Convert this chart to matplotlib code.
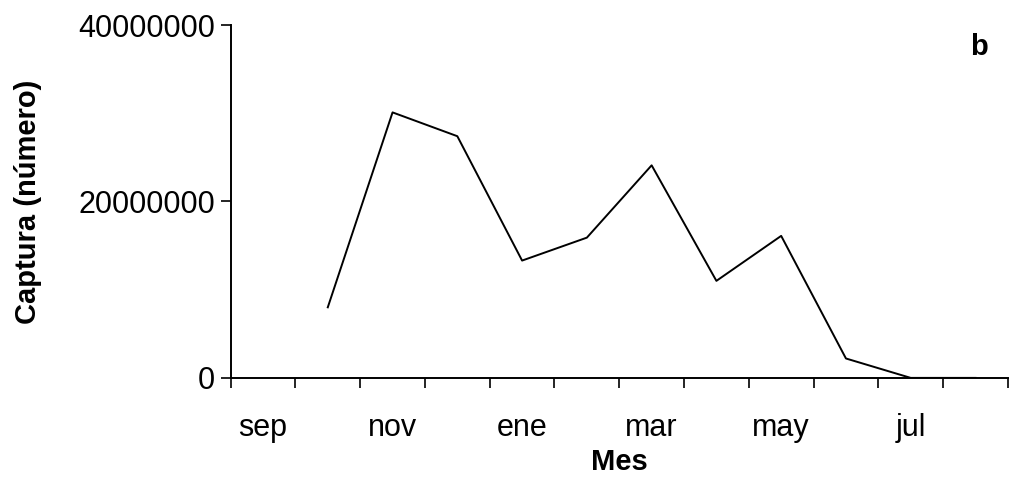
import numpy as np
import matplotlib
matplotlib.use('Agg')
import matplotlib.pyplot as plt
import matplotlib.ticker as ticker

# monthly catch (numbers), sep -> ago; sep has no value
meses = ['sep', 'oct', 'nov', 'dic', 'ene', 'feb', 'mar', 'abr', 'may', 'jun', 'jul', 'ago']
captura = [np.nan, 8000000, 30100000, 27400000, 13300000, 15900000,
           24100000, 11000000, 16100000, 2200000, 0, 0]
etiquetas = ['sep', '', 'nov', '', 'ene', '', 'mar', '', 'may', '', 'jul', '']

plt.rcParams['font.family'] = ['Liberation Sans', 'DejaVu Sans']

fig = plt.figure(figsize=(10.16, 4.82), dpi=100)
ax = fig.add_axes([0.227, 0.216, 0.765, 0.732])

x = np.arange(len(meses))
ax.plot(x, captura, color='black', linewidth=1.4)

ax.set_xlim(-0.5, len(meses) - 0.5)
ax.set_ylim(0, 40000000)

# tick marks on category boundaries, labels at category centres
ax.xaxis.set_major_locator(ticker.FixedLocator(np.arange(-0.5, len(meses), 1.0)))
ax.xaxis.set_major_formatter(ticker.NullFormatter())
ax.xaxis.set_minor_locator(ticker.FixedLocator(x))
ax.xaxis.set_minor_formatter(ticker.FixedFormatter(etiquetas))
ax.tick_params(axis='x', which='major', direction='out', length=7, width=1.2)
ax.tick_params(axis='x', which='minor', length=0, pad=25, labelsize=22)

ax.set_yticks([0, 20000000, 40000000])
ax.yaxis.set_major_formatter(ticker.FuncFormatter(lambda v, p: '%d' % v))
ax.tick_params(axis='y', direction='out', length=7, width=1.2, labelsize=22, pad=4)

for s in ['top', 'right']:
    ax.spines[s].set_visible(False)
for s in ['left', 'bottom']:
    ax.spines[s].set_linewidth(1.4)

ax.set_xlabel('Mes', fontsize=21, fontweight='bold', labelpad=4)
ax.set_ylabel('Captura (número)', fontsize=21, fontweight='bold', labelpad=26)
ax.text(0.963, 0.938, 'b', transform=ax.transAxes, fontsize=21,
        fontweight='bold', ha='center', va='center')

fig.savefig('out.png', dpi=100)
